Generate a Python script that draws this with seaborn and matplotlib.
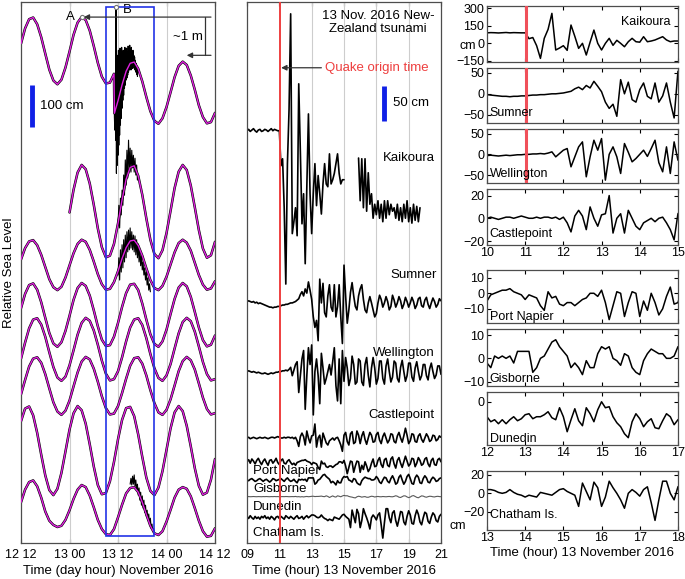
import matplotlib
matplotlib.use("Agg")
import matplotlib.pyplot as plt
from matplotlib.patches import Rectangle
import numpy as np
import seaborn as sns

nan = np.nan

# ---------------------------------------------------------------- left panel data
# hourly tide (cm, relative to each record's mean), hours since 12 Nov 00:00
tide_hours = np.arange(12, 61)
kaik_hours = np.insert(tide_hours.astype(float), 24, 35.1)   # Kaikoura has the co-seismic jump
tide_kaikoura = [17, 53, 75, 79, 63, 32, -7, -45, -71, -80, -69, -40, -2, 38, 67, 80, 73, 48,
                 11, -29, -62, -78, -76, -55,
                 -149,
                 -119, -81, -49, -30, -27, -43, -73, -110, -144, -167, -174, -161, -134, -99,
                 -63, -36, -26, -34, -59, -93, -130, -158, -173, -170, -148]
sumner_hours = np.arange(24, 61)
tide_sumner = [-2, 52, 93, 111, 101, 67, 16, -40, -85, -109, -105, -77, -28, 28, 77, 105, 109,
               85, 40, -16, -67, -101, -111, -92, -51, 2, 56, 95, 111, 99, 62, 10, -44, -88,
               -110, -104, -72]
tide_wellington = [13, 40, 56, 59, 47, 24, -5, -34, -53, -60, -52, -30, -1, 28, 50, 60, 55, 36,
                   8, -22, -46, -59, -57, -41, -15, 15, 41, 57, 59, 46, 22, -8, -36, -55, -60,
                   -50, -28, 1, 30, 52, 60, 53, 34, 5, -24, -47, -59, -56, -39]
tide_castlepoint = [16, 50, 71, 75, 60, 30, -7, -43, -68, -76, -65, -38, -2, 36, 64, 76, 69, 46,
                    11, -27, -59, -74, -72, -52, -19, 19, 52, 72, 74, 59, 27, -11, -46, -69, -76,
                    -63, -35, 2, 38, 65, 76, 68, 43, 7, -30, -60, -75, -71, -49]
tide_portnapier = [-22, 16, 50, 71, 74, 59, 30, -7, -42, -67, -75, -65, -38, -2, 35, 63, 75, 68,
                   45, 11, -27, -58, -74, -71, -52, -19, 19, 52, 71, 74, 58, 27, -11, -45, -68,
                   -75, -62, -35, 2, 38, 65, 75, 67, 42, 7, -30, -59, -74, -71]
tide_gisborne = [-20, 14, 46, 65, 68, 55, 28, -6, -39, -61, -69, -59, -35, -1, 32, 58, 69, 63,
                 41, 10, -25, -53, -68, -66, -48, -17, 17, 48, 66, 68, 53, 25, -10, -41, -63,
                 -69, -57, -32, 1, 35, 59, 69, 61, 39, 6, -28, -55, -68, -65]
tide_dunedin = [70, 100, 105, 84, 42, -10, -59, -94, -106, -91, -53, -2, 50, 89, 106, 96, 64, 15,
                -38, -82, -104, -101, -73, -27, 27, 73, 101, 104, 82, 38, -15, -64, -96, -106,
                -88, -49, 2, 53, 91, 106, 94, 59, 10, -42, -84, -105, -100, -69, -20]
tide_chatham = [14, 44, 62, 66, 52, 25, -8, -30, -40, -45, -42, -28, -5, 22, 44, 55, 50, 30, 2,
                -28, -50, -62, -64, -50, -22, 8, 35, 48, 50, 38, 14, -15, -42, -60, -64, -55,
                -32, -4, 25, 44, 50, 46, 28, 0, -30, -55, -68, -66, -48]
left_offsets = [1172, 789, 662, 543, 461, 374, 220, 83]

# observed sea level during the tsunami window (cm, same reference as the tide)
burst_kaik_hours = np.linspace(35, 41, 61)
burst_kaikoura = [-70, -158, -189, -118, -213, 104, -292, -23, -273, -11,
                  -249, 1, -225, -11, -201, 6, -177, -23, -161, 8,
                  -137, -11, -118, 1, -106, -23, -89, 8, -82, -11,
                  -70, 6, -65, -4, -58, 11, -51, 1, -46, 13,
                  -42, 1, -46, 8, -37, -4, -42, 1, -35, -11,
                  -42, -15, -46, -23, -51, -30, -56, -37, -61, -46, -51]
burst_sumner_hours = np.linspace(36, 41, 26)
burst_sumner = [-32, 15, -39, 32, -8, 51, 15, 87, 39, 123, 63, 146, 80, 170, 99, 151, 94, 146,
                104, 134, 94, 127, 87, 111, 75, 80]
burst_well_hours = np.linspace(36, 44, 41)
burst_wellington = [-24, 17, -36, 36, -17, 48, -7, 60, 7, 71, 17, 79, 31, 83, 36, 88, 40, 79, 36,
                    71, 31, 69, 24, 60, 17, 50, 7, 36, -2, 24, -12, 7, -24, -7, -36, -17, -48,
                    -31, -60, -45, -64]
burst_chat_hours = np.linspace(39, 45, 31)
burst_chatham = [57, 71, 55, 76, 57, 79, 52, 67, 43, 57, 31, 48, 19, 38, 7, 29, 0, 19, -10, 7,
                 -19, -5, -29, -14, -38, -24, -48, -38, -55, -48, -60]

# ---------------------------------------------------------------- de-tided records, 13 Nov 09-21 h
rec_hours = np.linspace(9, 21, 121)
kaikoura = [90, 92, 89, 91, 93, 90, 88, 91, 92, 89,
            90, 92, 91, 89, 91, 93, 90, 92, 91, 90,
            90, 40, 50, -20, -129, 43, 120, 257, -57, -40,
            -20, -60, 157, 60, -43, 0, -100, 10, 114, 0,
            -57, 0, 43, -17, 26, 0, -29, 14, 43, 14,
            10, 57, 14, 20, 29, 43, 57, 29, 14, 20,
            20, nan, nan, nan, nan, nan, nan, nan, nan, 51,
            -10, 50, -20, 50, -25, 30, -15, 0, -35, -15,
            -30, -10, -35, -15, -40, -10, -35, -10, -30, -15,
            -25, -20, -35, -15, -38, -20, -40, -15, -35, -10,
            -40, -20, -42, -15, -38, -18, -40, -20, nan, nan,
            nan, nan, nan, nan, nan, nan, nan, nan, nan, nan,
            nan]
sumner = [2, 3, 2, 1, 2, 0, 1, -1, 0, -1,
          -2, -3, -4, -5, -6, -6, -7, -6, -6, -5,
          -5, -4, -3, -3, -2, -2, -1, 0, 0, 1,
          2, 4, 6, 12, 16, 10, 20, 14, 30, 18,
          5, -20, -35, -25, -54, 34, 0, 28, -14, -20,
          10, 26, -6, -12, 26, -20, -5, 26, -20, -58,
          54, 10, -29, -10, 15, 29, 10, -5, -10, 10,
          20, 26, 5, -10, -14, 0, 9, 0, -10, -20,
          -15, 0, 11, 5, -6, 0, 9, 2, -10, -5,
          11, 4, -6, 0, 9, 3, -8, -2, 8, 2,
          -6, 0, 8, 2, -8, -3, 6, 8, -4, -6,
          4, 8, -2, -8, 0, 7, 2, -6, -2, 6,
          3]
wellington = [0, 1, 0, -1, 0, -1, -2, -1, -2, -3,
              -3, -2, -3, -4, -3, -2, -3, -2, -1, -1,
              0, 0, 1, 1, 2, 1, 3, 6, -6, 2,
              10, 14, -30, -6, 18, 30, -54, -6, 34, 10,
              38, -62, 0, 18, -6, -46, 26, 5, -18, -10,
              0, 10, -5, 14, 34, -20, -42, 18, -46, 30,
              -14, 20, 5, -20, -10, 22, 10, -18, -15, 18,
              15, -15, -20, 10, 20, -5, -22, 5, 20, 5,
              -18, -10, 15, 15, -10, -18, 8, 18, 0, -15,
              -8, 15, 12, -10, -15, 6, 16, 0, -14, -6,
              12, 12, -8, -14, 5, 14, 0, -12, -6, 10,
              10, -6, -12, 4, 12, 0, -10, -5, 8, 8,
              -4]
castlepoint = [0, 1, -1, 0, 1, 0, -1, 0, 1, 0,
               0, 1, 0, -1, 0, 1, 1, 0, 1, 2,
               1, 0, 0, 1, 0, 1, 1, 0, 1, -1,
               1, -4, -12, 2, 7, 2, -10, 10, 0, -7,
               3, 4, 20, -13, 0, 4, -13, 7, 0, -7,
               -10, -4, -2, 0, -3, 0, 1, -4, -10, -19,
               4, 8, -5, -10, 6, 9, -8, -6, 10, 4,
               -8, 3, 9, -2, -9, 0, 8, 4, -6, -5,
               5, 8, -3, -8, 2, 7, 0, -7, -3, 6,
               5, -5, -7, 3, 8, 0, -6, 3, 14, 4,
               -8, -4, 6, 5, -5, -6, 3, 6, -2, -6,
               0, 6, 2, -5, -3, 4, 3, -4, -2, 3,
               1]
portnapier = [0, 3, -2, 4, 1, -3, 2, 5, 0, -4,
              1, 4, -1, -5, 2, 3, -2, 1, 5, -1,
              -4, 2, 4, -2, -3, 1, 3, -1, -4, -2,
              -5, -1, 0, 1, 2, 2, 3, 1, 0, -1,
              -4, -1, -2, -3, -8, -11, 1, -3, -2, -7,
              -8, -6, -6, -8, -6, -4, -3, 0, 0, -2,
              2, -6, -17, -8, 1, 0, -15, -6, 1, 0,
              -15, -5, -11, 0, -6, -14, -10, -2, 4, -7,
              -6, 2, 6, -4, -8, 3, 5, -5, -7, 4,
              7, -3, -9, 2, 6, -2, -8, 0, 8, 1,
              -6, -3, 5, 4, -7, -2, 6, 2, -5, -3,
              4, 6, -3, -7, 2, 5, -4, -5, 3, 5,
              0]
gisborne = [0, -1, 1, 2, 0, -2, -1, 1, 2, 0,
            -2, 0, 1, -1, -3, -1, 2, 1, -1, 0,
            1, 2, 0, -2, 1, 3, 0, -2, -1, 1,
            -2, -4, 1, 0, 1, 0, 1, -2, 3, 3,
            3, 3, -6, -4, 0, 1, 4, 7, 8, 5,
            3, 1, -4, -2, -4, -7, -1, -4, -4, 2,
            5, 4, 5, 0, -1, -3, 2, 1, -4, -6,
            -7, -1, 2, 4, 3, 2, 2, 0, 0, 1,
            5, 2, -3, -5, 0, 4, 3, -2, -4, 2,
            6, 1, -6, -4, 4, 7, 0, -6, -2, 5,
            8, 2, -5, -6, 3, 7, 4, -4, -5, 2,
            6, 3, -3, -4, 1, 4, 2, -2, -1, 2,
            3]
dunedin = [-1.8, -1.7, -1.9, -1.8, -1.6, -1.8, -1.9, -1.7, -1.8, -1.9,
           -1.7, -1.8, -1.6, -1.8, -1.9, -1.7, -1.8, -1.6, -1.8, -1.7,
           -1.9, -1.8, -1.7, -1.8, -1.6, -1.7, -1.9, -1.8, -1.7, -1.8,
           -1.5, -2.0, -1.8, -2.2, -1.8, -2.2, -1.8, -1.5, -1.9, -1.7,
           -1.3, -1.2, -1.7, -1.5, -1.5, -1.3, -1.0, -1.6, -1.8, -0.6,
           -1.5, -3.0, -1.8, -0.7, -1.9, -2.4, -0.6, -1.2, -2.0, -0.8,
           0.0, -0.6, -0.5, -1.5, -2.1, -2.5, -3.2, -3.6, -2.0, -1.2,
           -1.7, -2.5, -2.0, -1.7, -2.6, -2.7, -1.9, -1.2, -1.5, -2.3,
           -1.8, -1.5, -1.9, -2.0, -1.6, -1.8, -2.0, -1.7, -1.5, -1.9,
           -2.0, -1.4, -0.5, -1.2, -2.6, -3.0, -1.8, -0.6, -0.8, -2.2,
           -3.2, -2.4, -0.8, -0.3, -1.5, -2.8, -3.4, -2.0, -0.7, -1.0,
           -2.1, -2.6, -1.8, -1.2, -1.4, -2.0, -2.2, -1.6, -1.3, -1.7,
           -1.9]
chatham = [2, -1, 3, 0, -2, 2, -1, 1, -2, 2,
           0, 3, -1, 1, -2, 2, 0, -3, 1, 2,
           -1, 2, 0, -2, 3, 1, -1, 2, 0, -2,
           1, 3, -1, 0, 2, -2, 1, 3, 0, 2,
           4, 4, 3, 1, 0, 1, 4, 1, -1, -2,
           -4, -2, -3, -4, 1, 0, -1, -2, 1, 4,
           5, 2, 0, -2, -14, 11, 2, -7, 12, 6,
           -14, -4, 13, 6, 0, -7, -16, 0, 4, 1,
           -3, 4, 7, -10, -29, -7, 13, 13, 0, -7,
           7, 10, -4, -12, -2, 9, 8, -6, -10, 2,
           10, 4, -8, -9, 3, 11, 5, -6, -10, 0,
           8, 6, -5, -8, 1, 7, 4, -4, -6, 2,
           5]

stations = ["Kaikoura", "Sumner", "Wellington", "Castlepoint",
            "Port Napier", "Gisborne", "Dunedin", "Chatham Is."]
records = [kaikoura, sumner, wellington, castlepoint, portnapier, gisborne, dunedin, chatham]
mid_offsets = [499, 343, 245, 150, 116, 90, 68, 36]

quake_hour = 11.03          # 13 Nov 11:02 UTC
MAGENTA = "#E020E0"
RED = "#EE3F3F"

sns.set_theme(style="white")
plt.rcParams["font.family"] = ["Liberation Sans", "DejaVu Sans"]
plt.rcParams.update({
    "font.size": 9, "text.color": "black", "axes.labelcolor": "black",
    "axes.edgecolor": "0.3", "axes.linewidth": 0.9,
    "xtick.direction": "in", "ytick.direction": "in",
    "xtick.bottom": True, "xtick.top": True, "ytick.left": True, "ytick.right": True,
    "xtick.major.size": 3, "ytick.major.size": 3,
    "xtick.major.width": 0.8, "ytick.major.width": 0.8,
    "xtick.color": "black", "ytick.color": "black",
    "xtick.labelsize": 9, "ytick.labelsize": 9,
})


def line(ax, x, y, color="black", lw=1.0, units=None, z=2):
    sns.lineplot(x=np.asarray(x, float), y=np.asarray(y, float), ax=ax, color=color,
                 linewidth=lw, estimator=None, sort=False, units=units, legend=False, zorder=z)


fig = plt.figure(figsize=(6.85, 5.79), dpi=100)

# ================================================================ left panel
ax_l = fig.add_axes([0.0307, 0.0622, 0.2832, 0.9344])
left_x = [kaik_hours, sumner_hours] + [tide_hours] * 6
left_tides = [tide_kaikoura, tide_sumner, tide_wellington, tide_castlepoint,
              tide_portnapier, tide_gisborne, tide_dunedin, tide_chatham]
bursts = [(burst_kaik_hours, burst_kaikoura, 0), (burst_sumner_hours, burst_sumner, 1),
          (burst_well_hours, burst_wellington, 2), (burst_chat_hours, burst_chatham, 7)]

for h in [24, 36, 48]:
    ax_l.axvline(h, color="#cdcdcd", lw=0.8, zorder=1)
for x, vals, off in zip(left_x, left_tides, left_offsets):
    line(ax_l, x, np.array(vals) + off, "black", 1.8, z=2)
for x, vals, k in bursts:
    line(ax_l, x, np.array(vals) + left_offsets[k], "black", 0.8, z=2.5)
for x, vals, off in zip(left_x, left_tides, left_offsets):
    line(ax_l, x, np.array(vals) + off, MAGENTA, 1.0, z=3)

ax_l.axvline(quake_hour + 0.02, color="#F0654B", lw=1.8, zorder=4)
ax_l.add_patch(Rectangle((33, 17), 12, 1259, fill=False, ec="#2233E6", lw=1.2, zorder=5))

# points A (pre-quake high tide) and B (first tsunami crest) and the ~1 m drop
kt = np.array(tide_kaikoura)
ia = int(np.argmax(kt[:24]))
a_h, a_v = kaik_hours[ia], kt[ia] + left_offsets[0]
ip = 25 + int(np.argmax(kt[25:]))
p_h, p_v = kaik_hours[ip], kt[ip] + left_offsets[0] + 15
ib = int(np.argmax(burst_kaikoura))
b_h, b_v = burst_kaik_hours[ib], burst_kaikoura[ib] + left_offsets[0]
arrow = dict(arrowstyle="-|>", color="0.2", lw=0.9, mutation_scale=8, shrinkA=0, shrinkB=0)
ax_l.annotate("", xy=(a_h + 0.5, a_v), xytext=(59, a_v), arrowprops=arrow, zorder=6)
ax_l.plot([57.6, 57.6], [a_v, p_v], color="0.2", lw=0.9, zorder=6)
ax_l.annotate("", xy=(p_h + 1.0, p_v), xytext=(59, p_v), arrowprops=arrow, zorder=6)
ax_l.plot([a_h, b_h], [a_v, b_v], "o", ms=3, mfc="white", mec="0.45", mew=0.8, zorder=7)
ax_l.text(a_h - 2.8, a_v, "A", ha="center", va="center", fontsize=9.5)
ax_l.text(b_h + 2.7, b_v - 8, "B", ha="center", va="center", fontsize=9.5)
ax_l.text(53.2, 1204, "~1 m", ha="center", va="center", fontsize=9.5)
ax_l.plot([14.7, 14.7], [990, 1090], color="#1020E6", lw=3.5, solid_capstyle="butt")
ax_l.text(16.6, 1040, "100 cm", ha="left", va="center", fontsize=9.5)

ax_l.set_xlim(12, 60)
ax_l.set_ylim(0, 1288)
ax_l.set_xticks([12, 24, 36, 48, 60])
ax_l.set_xticklabels(["12 12", "13 00", "13 12", "14 00", "14 12"])
ax_l.set_yticks([])
ax_l.tick_params(axis="x", pad=4)
ax_l.set_xlabel("Time (day hour) November 2016", fontsize=9.5, labelpad=3)
ax_l.set_ylabel("Relative Sea Level", fontsize=9.5, labelpad=4)

# ================================================================ middle panel
ax_m = fig.add_axes([0.3606, 0.0622, 0.2832, 0.9344])
for h in [13, 15, 17, 19]:
    ax_m.axvline(h, color="#cdcdcd", lw=0.8, zorder=1)
for name, vals, off in zip(stations, records, mid_offsets):
    v = np.array(vals, float)
    seg = np.cumsum(np.isnan(v))
    thin = name == "Dunedin"
    line(ax_m, rec_hours, v + off, "0.35" if thin else "black", 0.8 if thin else 1.2, units=seg, z=2)
ax_m.axvline(quake_hour, color=RED, lw=1.4, zorder=4)

ax_m.text(17.1, 762, "13 Nov. 2016 New-\nZealand tsunami", ha="center", va="top",
          fontsize=9.5, linespacing=1.15)
ax_m.text(13.8, 679, "Quake origin time", color=RED, ha="left", va="center", fontsize=9.5)
ax_m.annotate("", xy=(quake_hour + 0.08, 679), xytext=(13.6, 679), arrowprops=arrow)
ax_m.plot([17.47, 17.47], [603, 653], color="#1020E6", lw=3.5, solid_capstyle="butt")
ax_m.text(18.05, 628, "50 cm", ha="left", va="center", fontsize=9.5)

mid_label_pos = [(20.6, 550, "right"), (20.75, 383, "right"), (20.6, 272, "right"),
                 (20.6, 183, "right"), (9.37, 103, "left"), (9.37, 77, "left"),
                 (9.37, 51, "left"), (9.37, 14, "left")]
for name, (tx, ty, ha) in zip(stations, mid_label_pos):
    ax_m.text(tx, ty, name, ha=ha, va="center", fontsize=9.5)

ax_m.set_xlim(9, 21)
ax_m.set_ylim(0, 773)
ax_m.set_xticks([9, 11, 13, 15, 17, 19, 21])
ax_m.set_xticklabels(["09", "11", "13", "15", "17", "19", "21"])
ax_m.set_yticks([])
ax_m.tick_params(axis="x", pad=4)
ax_m.set_xlabel("Time (hour) 13 November 2016", fontsize=9.5, labelpad=3)

# ================================================================ right panels
right_boxes = [(0.8929, 0.0967), (0.7876, 0.0950), (0.6839, 0.0933), (0.5769, 0.0967),
               (0.4421, 0.0915), (0.3333, 0.0984), (0.2314, 0.0915), (0.0846, 0.1019)]
right_xlim = [(10, 15)] * 4 + [(12, 17)] * 3 + [(13, 18)]
right_ylim = [(-160, 320), (-70, 62), (-69, 61), (-23.5, 25.8),
              (-19.2, 15), (-11.9, 12.6), (-4.33, 0.97), (-39.3, 23.9)]
right_yticks = [[-150, 0, 150, 300], [-50, 0, 50], [-50, 0, 50], [-20, 0, 20],
                [-10, 0, 10], [-10, 0, 10], [0], [-20, 0, 20]]
label_y = [0.71, 0.18, 0.17, 0.2, 0.11, 0.12, 0.11, 0.25]

for k, name in enumerate(stations):
    b, hgt = right_boxes[k]
    ax = fig.add_axes([0.7109, b, 0.2788, hgt])
    v = np.array(records[k], float)
    line(ax, rec_hours, v, "black", 1.1, units=np.cumsum(np.isnan(v)), z=2)
    if k < 3:
        ax.axvline(quake_hour, color="#F0505A", lw=2.2, zorder=3)
    ax.set_xlim(*right_xlim[k])
    ax.set_ylim(*right_ylim[k])
    ax.set_yticks(right_yticks[k])
    ax.set_xticks(np.arange(right_xlim[k][0], right_xlim[k][1] + 1))
    ax.tick_params(axis="x", pad=1.5, labelbottom=k in (3, 6, 7))
    ax.tick_params(axis="y", pad=2)
    if k == 0:
        ax.text(0.963, label_y[k], name, transform=ax.transAxes, ha="right", va="center", fontsize=9)
    else:
        ax.text(0.015, label_y[k], name, transform=ax.transAxes, ha="left", va="center", fontsize=9)
    if k == 0:
        ax.text(-0.145, -25, "cm", transform=ax.get_yaxis_transform(), ha="left", va="center", fontsize=9)
    if k == 7:
        ax.text(-0.11, -35, "cm", transform=ax.get_yaxis_transform(), ha="right", va="center", fontsize=9)
        ax.set_xlabel("Time (hour) 13 November 2016", fontsize=9.5, labelpad=2)

fig.savefig("out.png", dpi=100)
